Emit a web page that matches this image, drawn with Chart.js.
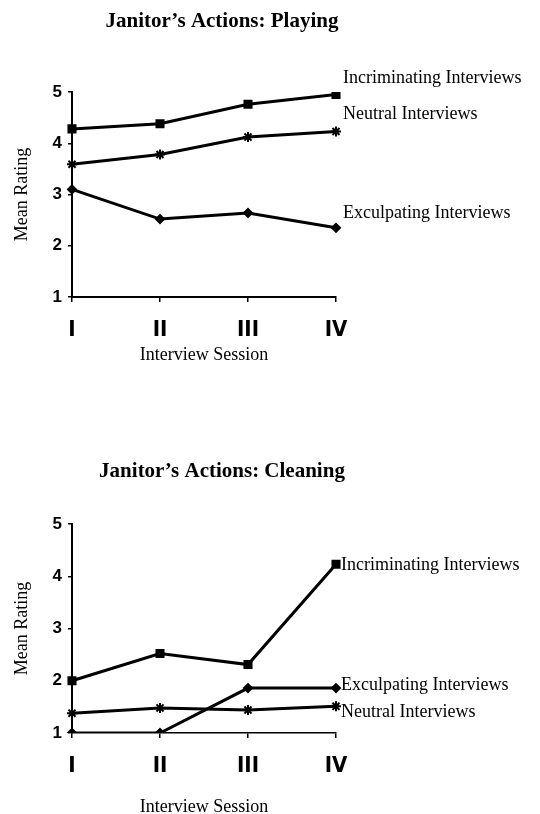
<!DOCTYPE html>
<html>
<head>
<meta charset="utf-8">
<script src="https://cdn.jsdelivr.net/npm/chart.js@4.4.1/dist/chart.umd.min.js"></script>
<style>
  html, body { margin: 0; padding: 0; background: #fff; overflow: hidden; }
  .panel { position: absolute; left: 0; width: 540px; }
  #playWrap { top: 0; height: 400px; }
  #cleanWrap { top: 394px; height: 440px; }
</style>
</head>
<body>
<div class="panel" id="playWrap"><canvas id="playChart"></canvas></div>
<div class="panel" id="cleanWrap"><canvas id="cleanChart"></canvas></div>
<script>
// Data
const sessions = ['I', 'II', 'III', 'IV'];
const yTicks = [1, 2, 3, 4, 5];

const playIncriminating = [4.28, 4.38, 4.76, 4.95];
const playNeutral = [3.59, 3.78, 4.12, 4.23];
const playExculpating = [3.10, 2.52, 2.64, 2.35];

const cleanIncriminating = [2.00, 2.52, 2.31, 4.23];
const cleanExculpating = [1.00, 1.00, 1.86, 1.86];
const cleanNeutral = [1.38, 1.48, 1.44, 1.51];

const seriesNames = {
    inc: 'Incriminating Interviews',
    neu: 'Neutral Interviews',
    exc: 'Exculpating Interviews'
};

const SERIF = '"Liberation Serif", "Times New Roman", serif';
const SANS = '"Liberation Sans", Arial, sans-serif';
const NARROW = '"Liberation Sans Narrow", "DejaVu Sans Condensed", "Liberation Sans", Arial, sans-serif';

function makeSet(label, data, style, radius) {
    return {
        label: label,
        data: data,
        borderColor: '#000',
        backgroundColor: '#000',
        borderWidth: 3,
        pointStyle: style,
        pointRadius: radius,
        pointBorderWidth: 2,
        pointBorderColor: '#000',
        pointBackgroundColor: '#000',
        tension: 0,
        fill: false
    };
}

// draws the title and the series names next to the last points
const labelPlugin = {
    id: 'endLabels',
    afterDraw(chart, args, opts) {
        const ctx = chart.ctx;
        ctx.save();
        ctx.fillStyle = '#000';
        ctx.textBaseline = 'middle';
        ctx.font = 'bold 21px ' + SERIF;
        ctx.textAlign = 'center';
        ctx.fillText(opts.title, opts.titleX, opts.titleY);

        ctx.font = '18px ' + SERIF;
        ctx.textAlign = 'left';
        chart.data.datasets.forEach((ds, i) => {
            const meta = chart.getDatasetMeta(i);
            const last = meta.data[meta.data.length - 1];
            ctx.fillText(ds.label, last.x + opts.dx, last.y + opts.dy[i]);
        });
        ctx.restore();
    }
};

function buildOptions(cfg) {
    return {
        responsive: true,
        maintainAspectRatio: false,
        animation: false,
        layout: {
            padding: { left: 0, right: 204, top: cfg.top, bottom: cfg.bottom }
        },
        plugins: {
            legend: { display: false },
            tooltip: { enabled: false },
            endLabels: cfg.labels
        },
        scales: {
            x: {
                type: 'category',
                offset: false,
                afterFit: function(scale) { scale.height = cfg.xHeight; },
                border: { display: true, color: '#000', width: cfg.axisWidth },
                grid: { display: true, drawOnChartArea: false, drawTicks: true, tickLength: 5, color: '#000', lineWidth: 1.5 },
                ticks: { color: '#000', padding: 15, maxRotation: 0, font: { family: NARROW, size: 22, weight: 'bold' } },
                title: { display: true, text: 'Interview Session', color: '#000', padding: 0, font: { family: SERIF, size: 18, lineHeight: 1.2 } }
            },
            y: {
                min: yTicks[0],
                max: yTicks[yTicks.length - 1],
                afterFit: function(scale) { scale.width = 72; },
                afterBuildTicks: function(scale) { scale.ticks = yTicks.map(v => ({ value: v })); },
                border: { display: true, color: '#000', width: 2 },
                grid: { display: true, drawOnChartArea: false, drawTicks: true, tickLength: 4, color: '#000', lineWidth: 1.5 },
                ticks: { color: '#000', padding: 6, font: { family: SANS, size: 17, weight: 'bold' } },
                title: { display: true, text: 'Mean Rating', color: '#000', padding: { top: 11, bottom: 0 }, font: { family: SERIF, size: 18, lineHeight: 1.2 } }
            }
        }
    };
}

new Chart(document.getElementById('playChart'), {
    type: 'line',
    data: {
        labels: sessions,
        datasets: [
            makeSet(seriesNames.inc, playIncriminating, 'rect', 5),
            makeSet(seriesNames.neu, playNeutral, 'star', 5),
            makeSet(seriesNames.exc, playExculpating, 'rectRot', 4)
        ]
    },
    options: buildOptions({
        top: 92, bottom: 34, xHeight: 69, axisWidth: 2,
        labels: { title: 'Janitor\u2019s Actions: Playing', titleX: 222, titleY: 22, dx: 7, dy: [-16, -17, -15] }
    }),
    plugins: [labelPlugin]
});

new Chart(document.getElementById('cleanChart'), {
    type: 'line',
    data: {
        labels: sessions,
        datasets: [
            makeSet(seriesNames.inc, cleanIncriminating, 'rect', 5),
            makeSet(seriesNames.exc, cleanExculpating, 'rectRot', 4),
            makeSet(seriesNames.neu, cleanNeutral, 'star', 5)
        ]
    },
    options: buildOptions({
        top: 130, bottom: 440 - 339 - 85, xHeight: 85, axisWidth: 1.5,
        labels: { title: 'Janitor\u2019s Actions: Cleaning', titleX: 222, titleY: 78, dx: 5, dy: [1, -3, 6] }
    }),
    plugins: [labelPlugin]
});
</script>
</body>
</html>
